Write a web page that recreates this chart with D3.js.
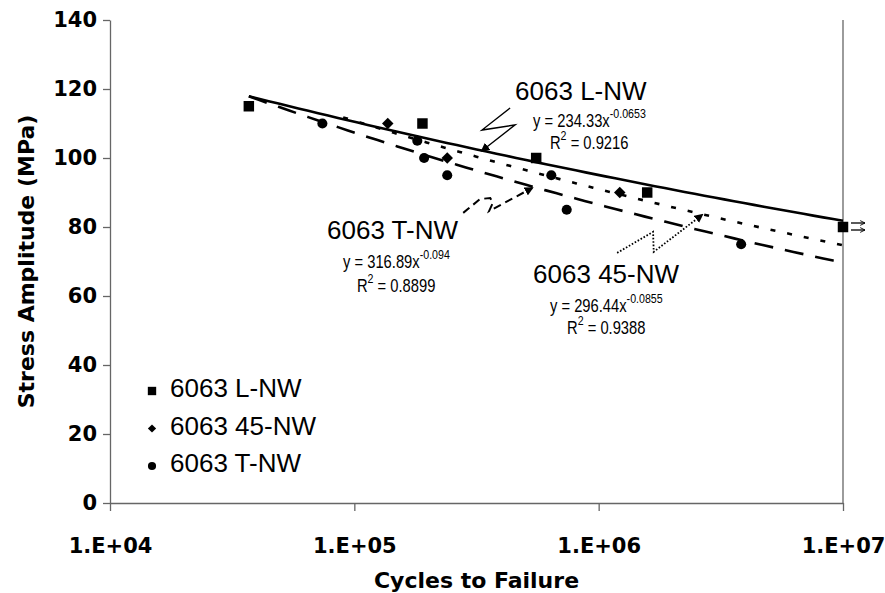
<!DOCTYPE html>
<html>
<head>
<meta charset="utf-8">
<script src="https://cdn.jsdelivr.net/npm/d3@7"></script>
<style>
  body { margin: 0; background: #fff; }
  .tick text { font-family: "DejaVu Sans", sans-serif; font-weight: bold; font-size: 21px; fill: #000; }
  .axis-title { font-family: "DejaVu Sans", sans-serif; font-weight: bold; font-size: 22px; fill: #000; }
  .big-label { font-family: "Liberation Sans", Arial, sans-serif; font-size: 26px; fill: #000; }
  .eq { font-family: "Liberation Sans", Arial, sans-serif; font-size: 18px; fill: #000; }
</style>
</head>
<body>
<div id="chart"></div>
<script>
// data
const lnwX = [3.7e4, 1.9e5, 5.55e5, 1.58e6, 1e7];
const lnwY = [115, 110, 100, 90, 80];
const d45X = [1.37e5, 2.4e5, 1.22e6];
const d45Y = [110, 100, 90];
const tnwX = [7.4e4, 1.81e5, 1.93e5, 2.4e5, 6.4e5, 7.4e5, 3.83e6];
const tnwY = [110, 105, 100, 95, 95, 85, 75];

const seriesNames = ["6063 L-NW", "6063 45-NW", "6063 T-NW"];
const fitCoef = [234.33, 296.44, 316.89];
const fitExpText = ["-0.0653", "-0.0855", "-0.094"];
const fitR2 = ["0.9216", "0.9388", "0.8899"];
const fitFrom = [3.7e4, 9e4, 3.7e4];
const fitTo = [1e7, 1e7, 1e7];

const xTicks = [1e4, 1e5, 1e6, 1e7];
const yTicks = [0, 20, 40, 60, 80, 100, 120, 140];

// annotation anchors, in data units (cycles, MPa)
const nameAt = [[4.55e5, 116.8], [5.39e5, 63.8], [7.73e4, 76.5]];
const eqAt = [[5.39e5, 109.0], [6.32e5, 55.4], [8.99e4, 68.1]];
const r2At = [[6.32e5, 102.6], [7.42e5, 49.0], [1.025e5, 61.2]];
const pointerL = [[4.34e5, 114.5], [3.33e5, 108.1], [4.55e5, 109.6], [3.33e5, 102.1]];
const pointer45 = [[1.19e6, 72.5], [1.67e6, 78.6], [1.68e6, 72.8], [2.65e6, 83.5]];
const pointerT = [[2.79e5, 84.1], [3.27e5, 88.1], [3.6e5, 88.4], [3.69e5, 87.0], [3.56e5, 84.6], [5.34e5, 91.3]];

const width = 885, height = 593;
const margin = {top: 20, right: 42, bottom: 90, left: 110};

const svg = d3.select("#chart").append("svg")
    .attr("width", width)
    .attr("height", height)
    .style("background", "#fff");

const x = d3.scaleLog()
    .domain([1e4, 1e7])
    .range([margin.left, width - margin.right]);

const y = d3.scaleLinear()
    .domain([0, 140])
    .range([height - margin.bottom, margin.top]);

const axisColor = "#666";

// right border of plot area
svg.append("line")
    .attr("x1", x(1e7)).attr("x2", x(1e7))
    .attr("y1", y(140)).attr("y2", y(0))
    .attr("stroke", axisColor)
    .attr("stroke-width", 1.3);

const gx = svg.append("g")
    .attr("transform", `translate(0,${y(0)})`)
    .call(d3.axisBottom(x)
        .tickValues(xTicks)
        .tickSize(8)
        .tickSizeOuter(0)
        .tickPadding(27)
        .tickFormat(d => `1.E+${String(Math.round(Math.log10(d))).padStart(2, "0")}`));

const gy = svg.append("g")
    .attr("transform", `translate(${x(1e4)},0)`)
    .call(d3.axisLeft(y)
        .tickValues(yTicks)
        .tickSize(7)
        .tickSizeOuter(0)
        .tickPadding(6));

[gx, gy].forEach(g => {
    g.select(".domain").attr("stroke", axisColor).attr("stroke-width", 1.3);
    g.selectAll(".tick line").attr("stroke", axisColor).attr("stroke-width", 1.3);
    g.selectAll(".tick text").attr("font-family", null).attr("font-size", null);
});

svg.append("text")
    .attr("class", "axis-title")
    .attr("x", (x(1e4) + x(1e7)) / 2)
    .attr("y", 588)
    .attr("text-anchor", "middle")
    .text("Cycles to Failure");

svg.append("text")
    .attr("class", "axis-title")
    .attr("transform", `translate(34,${(y(0) + y(140)) / 2}) rotate(-90)`)
    .attr("text-anchor", "middle")
    .text("Stress Amplitude (MPa)");

// trend lines from the fitted power laws
const lineGen = d3.line().x(d => x(d[0])).y(d => y(d[1]));
const fitDash = [null, "5,12", "19,12"];
const fitExpVal = fitExpText.map(Number);
fitCoef.forEach((a, i) => {
    const lo = Math.log10(fitFrom[i]), hi = Math.log10(fitTo[i]);
    const pts = d3.range(0, 61).map(k => {
        const xv = Math.pow(10, lo + (hi - lo) * k / 60);
        return [xv, a * Math.pow(xv, fitExpVal[i])];
    });
    svg.append("path")
        .attr("d", lineGen(pts))
        .attr("fill", "none")
        .attr("stroke", "#000")
        .attr("stroke-width", 2.6)
        .attr("stroke-dasharray", fitDash[i]);
});

// markers
const squareSym = s => d3.symbol(d3.symbolSquare, s)();
const circleSym = s => d3.symbol(d3.symbolCircle, s)();

svg.append("g").selectAll("path")
    .data(d3.zip(lnwX, lnwY))
    .join("path")
    .attr("d", squareSym(110))
    .attr("transform", d => `translate(${x(d[0])},${y(d[1])})`)
    .attr("fill", "#000");

svg.append("g").selectAll("path")
    .data(d3.zip(d45X, d45Y))
    .join("path")
    .attr("d", squareSym(66))
    .attr("transform", d => `translate(${x(d[0])},${y(d[1])}) rotate(45)`)
    .attr("fill", "#000");

svg.append("g").selectAll("path")
    .data(d3.zip(tnwX, tnwY))
    .join("path")
    .attr("d", circleSym(80))
    .attr("transform", d => `translate(${x(d[0])},${y(d[1])})`)
    .attr("fill", "#000");

// run-out arrows on the last L-NW point
const defs = svg.append("defs");
defs.append("marker")
    .attr("id", "openhead")
    .attr("viewBox", "0 0 10 10")
    .attr("refX", 9).attr("refY", 5)
    .attr("markerWidth", 6).attr("markerHeight", 6)
    .attr("markerUnits", "userSpaceOnUse")
    .attr("orient", "auto")
    .append("path")
    .attr("d", "M1,1 L9,5 L1,9")
    .attr("fill", "none")
    .attr("stroke", "#000")
    .attr("stroke-width", 1.5);

const runX = x(lnwX[lnwX.length - 1]), runY = y(lnwY[lnwY.length - 1]);
[-4, 3].forEach(off => {
    svg.append("line")
        .attr("x1", runX + 8).attr("x2", runX + 22)
        .attr("y1", runY + off).attr("y2", runY + off)
        .attr("stroke", "#000")
        .attr("stroke-width", 1.3)
        .attr("marker-end", "url(#openhead)");
});

// annotation pointers
defs.append("marker")
    .attr("id", "head")
    .attr("viewBox", "0 0 10 10")
    .attr("refX", 8).attr("refY", 5)
    .attr("markerWidth", 9).attr("markerHeight", 9)
    .attr("markerUnits", "userSpaceOnUse")
    .attr("orient", "auto")
    .append("path")
    .attr("d", "M0,0 L10,5 L0,10 Z")
    .attr("fill", "#000");

const pointers = [
    {pts: pointerL, dash: null, w: 1.4, curve: d3.curveLinear},
    {pts: pointer45, dash: "1.6,1.8", w: 1.8, curve: d3.curveLinear},
    {pts: pointerT, dash: "8,5", w: 2, curve: d3.curveLinear}
];
pointers.forEach(p => {
    svg.append("path")
        .attr("d", lineGen.curve(p.curve)(p.pts))
        .attr("fill", "none")
        .attr("stroke", "#000")
        .attr("stroke-width", p.w)
        .attr("stroke-dasharray", p.dash)
        .attr("marker-end", "url(#head)");
});

// annotation texts (equations drawn narrow, like Arial Narrow)
const narrow = 0.82;
seriesNames.forEach((name, i) => {
    svg.append("text")
        .attr("class", "big-label")
        .attr("x", x(nameAt[i][0]))
        .attr("y", y(nameAt[i][1]))
        .text(name);

    const eq = svg.append("text")
        .attr("class", "eq")
        .attr("transform", `translate(${x(eqAt[i][0])},${y(eqAt[i][1])}) scale(${narrow},1)`);
    eq.append("tspan").text(`y = ${fitCoef[i]}x`);
    eq.append("tspan").attr("dy", -9).attr("font-size", 13).text(fitExpText[i]);

    const r2 = svg.append("text")
        .attr("class", "eq")
        .attr("transform", `translate(${x(r2At[i][0])},${y(r2At[i][1])}) scale(${narrow},1)`);
    r2.append("tspan").text("R");
    r2.append("tspan").attr("dy", -9).attr("font-size", 13).text("2");
    r2.append("tspan").attr("dy", 9).text(` = ${fitR2[i]}`);
});

// legend
const legend = svg.append("g").attr("transform", "translate(152,391)");
const legendSyms = [
    {d: squareSym(70), rot: 0},
    {d: squareSym(34), rot: 45},
    {d: circleSym(52), rot: 0}
];
seriesNames.forEach((name, i) => {
    const row = legend.append("g").attr("transform", `translate(0,${i * 37.5})`);
    row.append("path")
        .attr("d", legendSyms[i].d)
        .attr("transform", `rotate(${legendSyms[i].rot})`)
        .attr("fill", "#000");
    row.append("text")
        .attr("class", "big-label")
        .attr("x", 18)
        .attr("y", 6)
        .text(name);
});
</script>
</body>
</html>
